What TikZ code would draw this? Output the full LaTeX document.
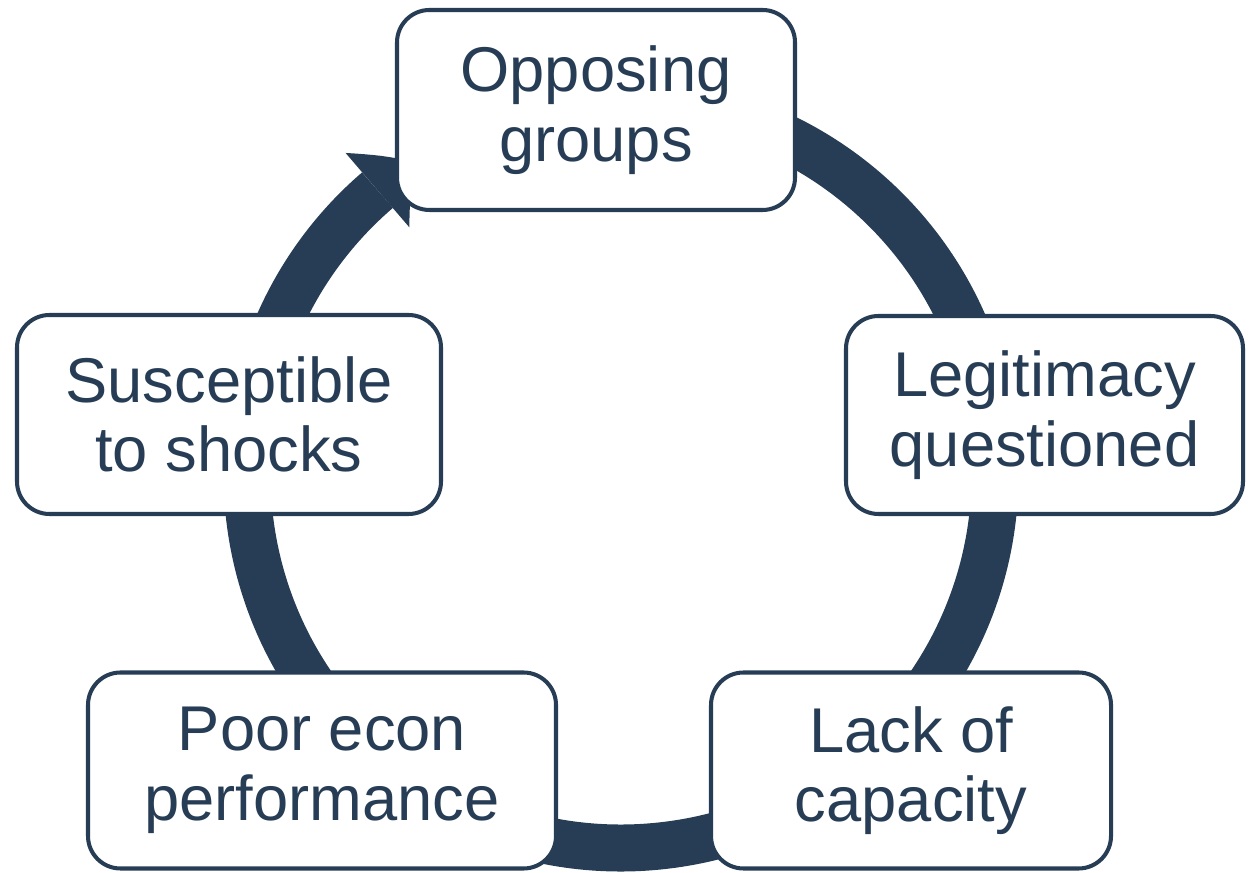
\documentclass[tikz,border=0pt]{standalone}
\usepackage{fontspec}
\setmainfont{Liberation Sans}
\usetikzlibrary{arrows.meta, bending}
\definecolor{cyclenavy}{RGB}{39,61,85}

\begin{document}
\begin{tikzpicture}[
      box/.style={rectangle, draw=cyclenavy, line width=2.3pt, fill=white, rounded corners=0.65cm, align=center, inner sep=0pt,
        text=cyclenavy, font=\fontsize{36}{39.6}\selectfont},
      ring/.style={draw=cyclenavy, line width=0.94cm, -{Triangle[width=1.96cm, length=0.95cm, line width=0pt, bend]}}
    ]
      \useasboundingbox (0,0) rectangle (24.98,17.44);
      \coordinate (centre) at (12.42,7.96);

      % Cycle ring, clockwise from under the top box
      \draw[ring] ([shift={(95:7.48)}]centre) arc[start angle=95, end angle=-236.6, radius=7.48];

      % Boxes
      \node[box, minimum width=7.96cm, minimum height=4cm] (opposing) at (11.92,15.24) {Opposing\\groups};
      \node[box, minimum width=7.94cm, minimum height=3.96cm] (legitimacy) at (20.89,9.14) {Legitimacy\\questioned};
      \node[box, minimum width=8cm, minimum height=3.92cm] (capacity) at (18.22,2.03) {Lack of\\capacity};
      \node[box, minimum width=9.36cm, minimum height=3.92cm] (economy) at (6.44,2.03) {Poor econ\\performance};
      \node[box, minimum width=8.48cm, minimum height=3.98cm] (shocks) at (4.58,9.15) {Susceptible\\to shocks};
    \end{tikzpicture}
\end{document}
